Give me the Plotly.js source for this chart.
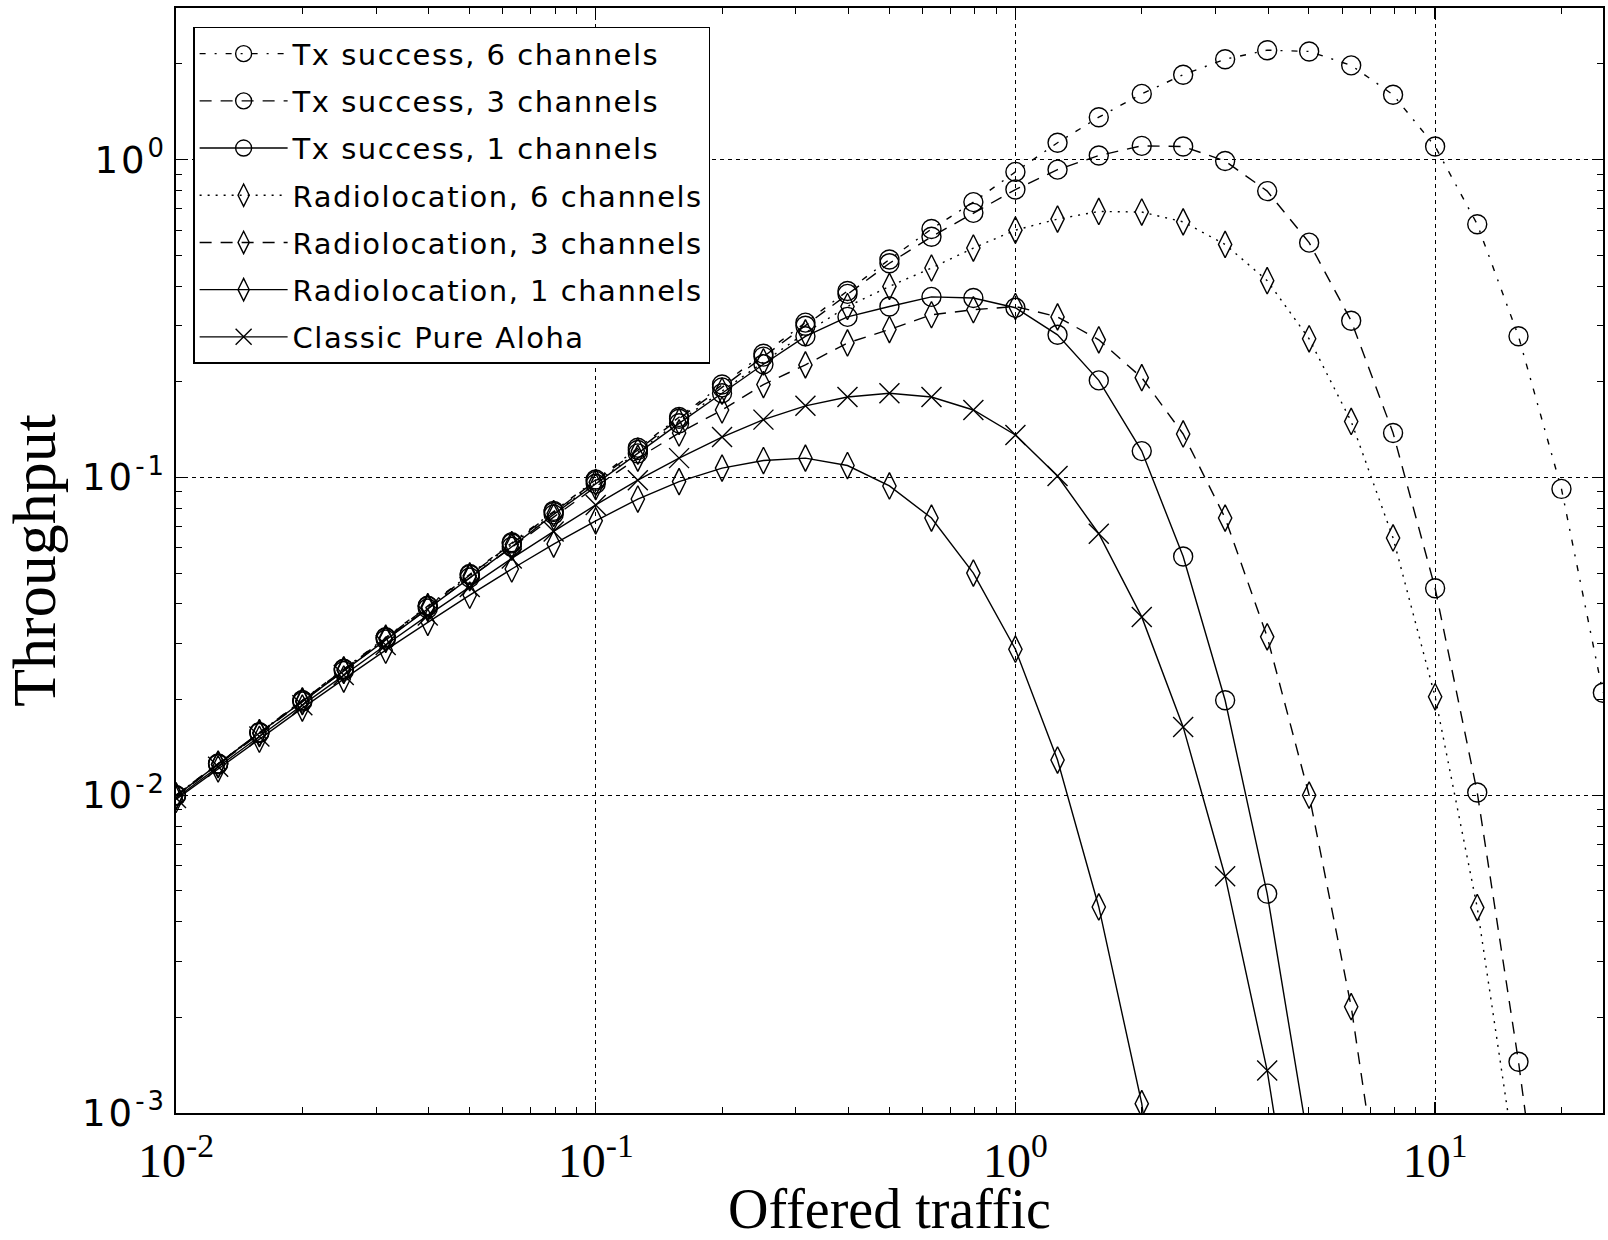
<!DOCTYPE html>
<html>
<head>
<meta charset="utf-8">
<script src="https://cdn.plot.ly/plotly-3.0.1.min.js"></script>
<style>
html,body{margin:0;padding:0;background:#fff;}
#chart{width:1608px;height:1240px;}
.legendtext{letter-spacing:1.5px;}
.ytick text{letter-spacing:3px;}
</style>
</head>
<body>
<div id="chart"></div>
<script>
// Offered traffic (0.1-decade steps)
const offered = [0.01, 0.0126, 0.0158, 0.02, 0.0251, 0.0316, 0.0398, 0.0501, 0.0631, 0.0794,
  0.1, 0.126, 0.158, 0.2, 0.251, 0.316, 0.398, 0.501, 0.631, 0.794,
  1, 1.26, 1.58, 2, 2.51, 3.16, 3.98, 5.01, 6.31, 7.94,
  10, 12.6, 15.8, 20, 25.1];

const txSuccess6 = [0.0100, 0.01258, 0.01578, 0.0199, 0.0250, 0.0314, 0.0395, 0.0497, 0.0625, 0.0785,
  0.0985, 0.124, 0.155, 0.196, 0.245, 0.307, 0.386, 0.485, 0.605, 0.735,
  0.915, 1.13, 1.36, 1.61, 1.85, 2.07, 2.21, 2.19, 1.98, 1.60,
  1.10, 0.626, 0.278, 0.092, 0.021];

const txSuccess3 = [0.0100, 0.01257, 0.01577, 0.0199, 0.0249, 0.0313, 0.0393, 0.0494, 0.0620, 0.0778,
  0.0975, 0.122, 0.153, 0.192, 0.240, 0.300, 0.378, 0.472, 0.572, 0.68,
  0.805, 0.93, 1.03, 1.105, 1.10, 0.99, 0.796, 0.548, 0.311, 0.138,
  0.0448, 0.0102, 0.00145, 0.00014];

const txSuccess1 = [0.00995, 0.01252, 0.0157, 0.0197, 0.0246, 0.0309, 0.0387, 0.0484, 0.0605, 0.0765,
  0.0955, 0.119, 0.148, 0.184, 0.227, 0.278, 0.320, 0.345, 0.370, 0.367,
  0.342, 0.281, 0.202, 0.121, 0.0564, 0.0199, 0.0049, 0.00078];

const radio6 = [0.00996, 0.01252, 0.01573, 0.0198, 0.0248, 0.0312, 0.0392, 0.0490, 0.0615, 0.0770,
  0.0965, 0.121, 0.150, 0.187, 0.231, 0.285, 0.345, 0.399, 0.456, 0.527,
  0.600, 0.650, 0.687, 0.684, 0.637, 0.541, 0.416, 0.273, 0.150, 0.0645,
  0.0204, 0.00443, 0.0006];

const radio3 = [0.00993, 0.01249, 0.01563, 0.0197, 0.0247, 0.0309, 0.0387, 0.0484, 0.0603, 0.0750,
  0.0935, 0.115, 0.138, 0.163, 0.196, 0.226, 0.265, 0.292, 0.325, 0.337,
  0.345, 0.320, 0.271, 0.206, 0.137, 0.0745, 0.0315, 0.0100, 0.00216, 0.00028];

const radio1 = [0.0097, 0.0121, 0.0150, 0.0188, 0.0232, 0.0286, 0.0350, 0.0426, 0.0515, 0.0617,
  0.0730, 0.0855, 0.097, 0.107, 0.113, 0.115, 0.109, 0.094, 0.0745, 0.0500,
  0.0288, 0.0129, 0.00445, 0.00107, 0.00012];

const pureAloha = [0.0098, 0.0123, 0.0153, 0.0192, 0.0239, 0.0297, 0.0368, 0.0452, 0.0556, 0.0676,
  0.0819, 0.0980, 0.115, 0.134, 0.152, 0.168, 0.179, 0.184, 0.179, 0.163,
  0.136, 0.101, 0.0665, 0.0364, 0.0164, 0.00556, 0.00136, 0.0002];

const seriesNames = ['Tx success, 6 channels', 'Tx success, 3 channels', 'Tx success, 1 channels',
  'Radiolocation, 6 channels', 'Radiolocation, 3 channels', 'Radiolocation, 1 channels', 'Classic Pure Aloha'];

const xTickVals = [0.01, 0.1, 1, 10];
const xTickText = ['10<sup>-2</sup>', '10<sup>-1</sup>', '10<sup>0</sup>', '10<sup>1</sup>'];
const yTickVals = [0.001, 0.01, 0.1, 1];
const yTickText = ['10<sup>-3</sup>', '10<sup>-2</sup>', '10<sup>-1</sup>', '10<sup>0</sup>'];

const seriesData = [txSuccess6, txSuccess3, txSuccess1, radio6, radio3, radio1, pureAloha];
const dashes = ['6px,9px,2px,9px', '12px,9px', 'solid', '2px,6px', '12px,9px', 'solid', 'solid'];
const symbols = ['circle-open', 'circle-open', 'circle-open', 'diamond-tall-open', 'diamond-tall-open', 'diamond-tall-open', 'x-thin-open'];
const sizes = [19, 19, 19, 19, 19, 19, 20];

const traces = seriesData.map((ys, i) => ({
  type: 'scatter',
  mode: 'lines+markers',
  name: seriesNames[i],
  legendgroup: 'g' + i,
  x: offered.slice(0, ys.length),
  y: ys,
  line: {color: 'black', width: 1.4, dash: dashes[i]},
  marker: {symbol: symbols[i], size: sizes[i], color: 'black', line: {color: 'black', width: 1.4}},
  cliponaxis: true
}));

function minorVals(lo, hi) {
  const v = [];
  for (let e = lo; e <= hi; e++) for (let m = 2; m <= 9; m++) v.push(m * Math.pow(10, e));
  return v;
}

const gridStyle = {showgrid: true, gridcolor: 'black', gridwidth: 1.2, griddash: '4px,4px'};

const layout = {
  width: 1608, height: 1240,
  margin: {l: 176, r: 5, t: 8, b: 127},
  paper_bgcolor: 'white', plot_bgcolor: 'white',
  showlegend: true,
  legend: {
    x: 0.012, y: 0.983, xanchor: 'left', yanchor: 'top',
    bgcolor: 'white', bordercolor: 'black', borderwidth: 1.5,
    font: {family: 'DejaVu Sans', size: 29, color: 'black'},
    itemwidth: 88, traceorder: 'grouped', tracegroupgap: 6.5
  },
  xaxis: Object.assign({
    type: 'log', range: [-2, 1.4],
    tickmode: 'array', tickvals: xTickVals, ticktext: xTickText,
    ticks: 'inside', ticklen: 11, tickwidth: 1.4, tickcolor: 'black',
    showline: true, linecolor: 'black', linewidth: 1.6, mirror: 'ticks',
    zeroline: false, ticklabelstandoff: 5,
    tickfont: {family: 'Liberation Serif', size: 48, color: 'black'},
    minor: {tickmode: 'array', tickvals: minorVals(-2, 1), ticks: 'inside', ticklen: 6, tickwidth: 1, tickcolor: 'black', showgrid: false},
    title: {text: 'Offered traffic', font: {family: 'Liberation Serif', size: 56, color: 'black'}, standoff: 4}
  }, gridStyle),
  yaxis: Object.assign({
    type: 'log', range: [-3, Math.log10(3)],
    tickmode: 'array', tickvals: yTickVals, ticktext: yTickText,
    ticks: 'inside', ticklen: 11, tickwidth: 1.4, tickcolor: 'black',
    showline: true, linecolor: 'black', linewidth: 1.6, mirror: 'ticks',
    zeroline: false,
    tickfont: {family: 'DejaVu Sans', size: 37, color: 'black'},
    minor: {tickmode: 'array', tickvals: minorVals(-3, 0), ticks: 'inside', ticklen: 6, tickwidth: 1, tickcolor: 'black', showgrid: false},
    title: {text: 'Throughput', font: {family: 'Liberation Serif', size: 62, color: 'black'}, standoff: 14}
  }, gridStyle)
};

Plotly.newPlot('chart', traces, layout, {staticPlot: true, displayModeBar: false});
</script>
</body>
</html>
